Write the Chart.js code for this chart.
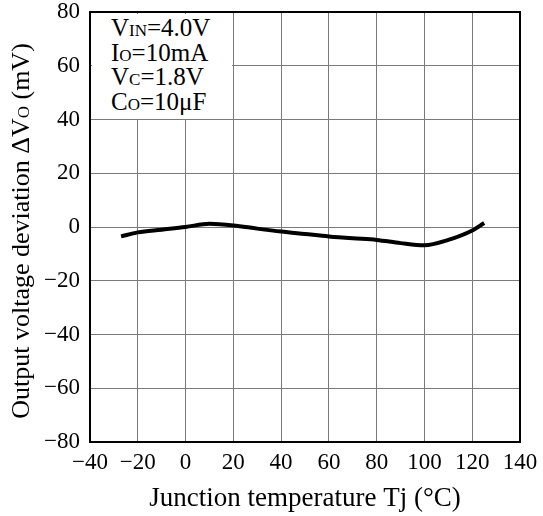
<!DOCTYPE html>
<html>
<head>
<meta charset="utf-8">
<script src="https://cdn.jsdelivr.net/npm/chart.js@4.4.0/dist/chart.umd.min.js"></script>
<style>
  html, body { margin: 0; padding: 0; background: #fff; }
  #wrap { position: relative; width: 543px; height: 516px; }
  #cond {
    position: absolute;
    background: #fff;
    color: #000;
    font-family: "Liberation Serif", "Times New Roman", serif;
    font-size: 25px;
    line-height: 24.5px;
    box-sizing: border-box;
    white-space: nowrap;
  }
  #cond .sc { font-size: 17px; line-height: 0; }
</style>
</head>
<body>
<div id="wrap">
  <canvas id="chart" width="543" height="516"></canvas>
  <div id="cond"></div>
</div>
<script>
    // Data
    const tempC = [-27, -20, -10, 0, 10, 20, 30, 40, 50, 60, 70, 80, 90, 100, 110, 120, 125];
    const deltaVo = [-3.5, -2.0, -1.0, 0, 1.2, 0.6, -0.6, -1.7, -2.6, -3.5, -4.2, -4.8, -6.0, -6.8, -4.8, -1.3, 1.5];
    const xTicks = [-40, -20, 0, 20, 40, 60, 80, 100, 120, 140];
    const yTicks = [-80, -60, -40, -20, 0, 20, 40, 60, 80];
    // [symbol, subscript, rest]
    const conditions = [
      ['V', 'IN', '=4.0V'],
      ['I', 'O', '=10mA'],
      ['V', 'C', '=1.8V'],
      ['C', 'O', '=10\u03bcF']
    ];

    const serif = '"Liberation Serif", "Times New Roman", serif';
    const minus = v => String(v).replace('-', '\u2212');

    // Black frame round the whole plot area
    const frame = {
      id: 'frame',
      afterDatasetsDraw(chart) {
        const { ctx, chartArea: a } = chart;
        ctx.save();
        ctx.strokeStyle = '#000';
        ctx.lineWidth = 2;
        ctx.strokeRect(a.left, a.top, a.right - a.left, a.bottom - a.top);
        ctx.restore();
      }
    };

    // Rotated y title with a small-cap subscript
    const yTitle = {
      id: 'yTitle',
      afterDraw(chart) {
        const { ctx } = chart;
        const parts = [
          ['Output voltage deviation \u0394V', 26],
          ['O', 17],
          [' (mV)', 26]
        ];
        ctx.save();
        let total = 0;
        parts.forEach(([s, size]) => {
          ctx.font = size + 'px ' + serif;
          total += ctx.measureText(s).width;
        });
        ctx.translate(29, 231);
        ctx.rotate(-Math.PI / 2);
        ctx.fillStyle = '#000';
        ctx.textBaseline = 'alphabetic';
        let px = -total / 2;
        parts.forEach(([s, size]) => {
          ctx.font = size + 'px ' + serif;
          ctx.fillText(s, px, 0);
          px += ctx.measureText(s).width;
        });
        ctx.restore();
      }
    };

    const chart = new Chart(document.getElementById('chart').getContext('2d'), {
      type: 'line',
      data: {
        datasets: [{
          data: tempC.map((t, i) => ({ x: t, y: deltaVo[i] })),
          borderColor: '#000',
          borderWidth: 4,
          pointRadius: 0,
          cubicInterpolationMode: 'monotone',
          fill: false
        }]
      },
      options: {
        responsive: false,
        animation: false,
        devicePixelRatio: 1,
        layout: { padding: { top: 12, right: 23, left: 0, bottom: 0 } },
        plugins: { legend: { display: false }, tooltip: { enabled: false } },
        scales: {
          x: {
            type: 'linear',
            min: -40,
            max: 140,
            afterBuildTicks: s => { s.ticks = xTicks.map(v => ({ value: v })); },
            afterFit: s => { s.height = 74; s.paddingLeft = 0; s.paddingRight = 0; },
            grid: { color: '#7a7a7a', lineWidth: 1, drawTicks: false },
            border: { color: '#000', width: 2 },
            ticks: {
              color: '#000',
              padding: 7,
              maxRotation: 0,
              font: { family: serif, size: 23 },
              callback: v => minus(v)
            },
            title: {
              display: true,
              text: 'Junction temperature Tj (\u00b0C)',
              color: '#000',
              font: { family: serif, size: 27 },
              padding: { top: 0, bottom: 1 }
            }
          },
          y: {
            type: 'linear',
            min: -80,
            max: 80,
            afterBuildTicks: s => { s.ticks = yTicks.map(v => ({ value: v })); },
            afterFit: s => { s.width = 90; s.paddingTop = 0; s.paddingBottom = 0; },
            grid: { color: '#7a7a7a', lineWidth: 1, drawTicks: false },
            border: { color: '#000', width: 2 },
            ticks: {
              color: '#000',
              padding: 10,
              font: { family: serif, size: 23 },
              callback: v => minus(v)
            }
          }
        }
      },
      plugins: [frame, yTitle]
    });

    // Conditions box covering the top-left grid cells (-40..20, 40..80)
    const box = document.getElementById('cond');
    const { x, y } = chart.scales;
    const l = x.getPixelForValue(-40), r = x.getPixelForValue(20);
    const t = y.getPixelForValue(80), b = y.getPixelForValue(40);
    box.style.left = (l + 1.5) + 'px';
    box.style.top = (t + 1.5) + 'px';
    box.style.width = (r - l - 2.5) + 'px';
    box.style.height = (b - t - 2.5) + 'px';
    box.style.paddingLeft = '19.5px';
    box.style.paddingTop = '2.5px';
    box.innerHTML = conditions
      .map(([main, sub, rest]) => `<div>${main}<span class="sc">${sub}</span>${rest}</div>`)
      .join('');
</script>
</body>
</html>
